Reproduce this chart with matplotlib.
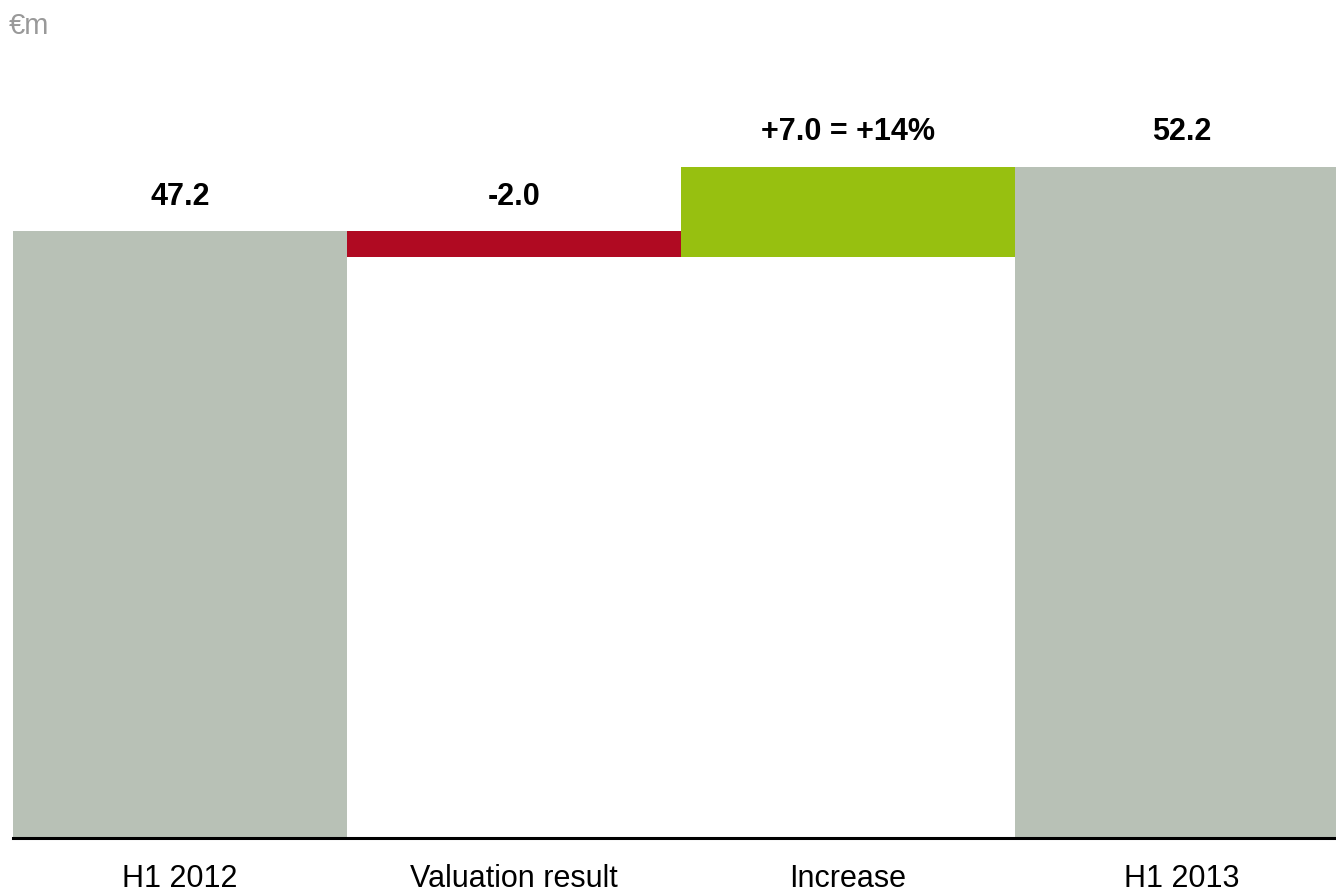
import matplotlib.pyplot as plt

plt.rcParams['font.family'] = ['Liberation Sans', 'DejaVu Sans']

# waterfall data (€m)
categories = ['H1 2012', 'Valuation result', 'Increase', 'H1 2013']
values = [47.2, -2.0, 7.0, 52.2]
labels = ['47.2', '-2.0', '+7.0 = +14%', '52.2']
kinds = ['total', 'delta', 'delta', 'total']
colors = ['#B8C1B6', '#B00A22', '#97C010', '#B8C1B6']

# bar bottoms / heights for the waterfall
bottoms = []
heights = []
running = 0
for v, k in zip(values, kinds):
    if k == 'total':
        bottoms.append(0)
        heights.append(v)
        running = v
    else:
        if v < 0:
            bottoms.append(running + v)
            heights.append(-v)
        else:
            bottoms.append(running)
            heights.append(v)
        running = running + v

fig = plt.figure(figsize=(13.36, 8.92), dpi=100)
# axes runs past the right edge so the last bar gets clipped like the original
ax = fig.add_axes([13/1336, 54/892, 1336/1336, 838/892])

x = list(range(len(categories)))
ax.bar(x, heights, bottom=bottoms, width=1.0, color=colors, linewidth=0)

for i in x:
    top = bottoms[i] + heights[i]
    ax.annotate(labels[i], (i, top), xytext=(0, 14), textcoords='offset points',
                ha='center', va='bottom', fontsize=22, fontweight='bold')

ax.set_xlim(-0.5, 3.5)
ax.set_ylim(0, 838 / 12.86)
ax.set_xticks(x)
ax.set_xticklabels(categories, fontsize=22)
ax.tick_params(axis='x', length=0, pad=19)
ax.set_yticks([])
for s in ['top', 'right', 'left']:
    ax.spines[s].set_visible(False)
ax.spines['bottom'].set_linewidth(2.2)

fig.text(9/1336, 1 - 26/892, '€m', fontsize=21, color='#999999', va='center', ha='left')

fig.savefig('out.png', dpi=100)
